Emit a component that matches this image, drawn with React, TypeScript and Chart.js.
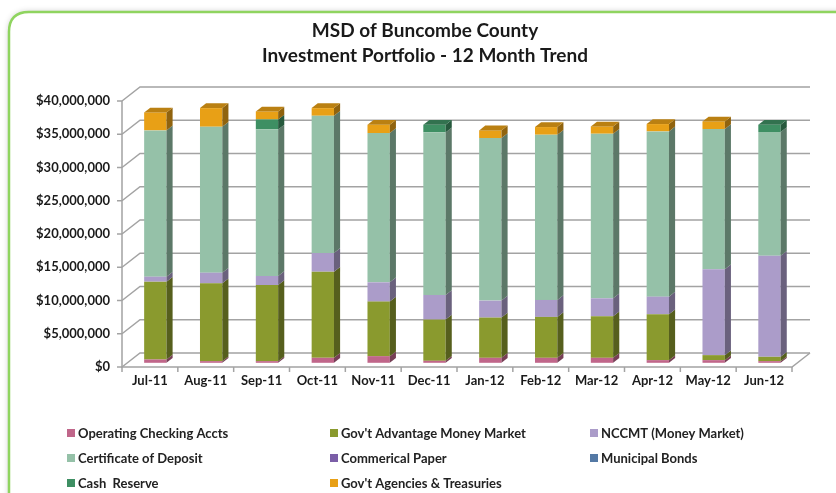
import React, { useEffect, useRef } from 'react';
import { Chart, registerables } from 'chart.js';

Chart.register(...registerables);

const titleLines = ['MSD of Buncombe County', 'Investment Portfolio - 12 Month Trend'];
const months = ['Jul-11', 'Aug-11', 'Sep-11', 'Oct-11', 'Nov-11', 'Dec-11', 'Jan-12', 'Feb-12', 'Mar-12', 'Apr-12', 'May-12', 'Jun-12'];

const operatingChecking = [500000, 250000, 250000, 750000, 1000000, 300000, 750000, 750000, 750000, 400000, 400000, 250000];
const govAdvantage = [11700000, 11700000, 11450000, 12950000, 8200000, 6200000, 6050000, 6150000, 6250000, 6900000, 750000, 650000];
const nccmt = [750000, 1600000, 1350000, 2800000, 2900000, 3700000, 2550000, 2550000, 2700000, 2650000, 12900000, 15200000];
const certificateOfDeposit = [22000000, 21950000, 22050000, 20650000, 22450000, 24450000, 24450000, 24850000, 24750000, 24850000, 21100000, 18600000];
const commercialPaper = [0, 0, 0, 0, 0, 0, 0, 0, 0, 0, 0, 0];
const municipalBonds = [0, 0, 0, 0, 0, 0, 0, 0, 0, 0, 0, 0];
const cashReserve = [0, 0, 1500000, 0, 0, 1150000, 0, 0, 0, 0, 0, 1100000];
const govAgencies = [2700000, 2800000, 1200000, 1150000, 1250000, 0, 1150000, 1150000, 1100000, 1100000, 1150000, 0];

const seriesNames = [
  'Operating Checking Accts',
  "Gov't Advantage Money Market",
  'NCCMT (Money Market)',
  'Certificate of Deposit',
  'Commerical Paper',
  'Municipal Bonds',
  'Cash  Reserve',
  "Gov't Agencies & Treasuries",
];
const seriesValues = [operatingChecking, govAdvantage, nccmt, certificateOfDeposit, commercialPaper, municipalBonds, cashReserve, govAgencies];
const seriesColors = ['#c0668a', '#8a9a2e', '#ab9cc9', '#95c1a8', '#7b5ea7', '#5479a5', '#3e8f63', '#e8a016'];

const yTicksMax = 40000000;
const yTicksStep = 5000000;

const FONT = 'Lato, "Open Sans", sans-serif';
const DX = 18;
const DY = -14;
const BAR_SHIFT = 0.3;
const BAR_DEPTH = 0.34;

function shade(hex: string, f: number) {
  const n = parseInt(hex.slice(1), 16);
  const r = Math.round(((n >> 16) & 255) * f);
  const g = Math.round(((n >> 8) & 255) * f);
  const b = Math.round((n & 255) * f);
  return `rgb(${r},${g},${b})`;
}

const threeD = {
  id: 'threeD',
  beforeDraw(chart: any) {
    const { ctx, width, height } = chart;
    ctx.save();
    ctx.fillStyle = '#ffffff';
    ctx.fillRect(0, 0, width, height);
    const x0 = 9, y0 = 12, r = 20, x1 = width + 40, y1 = height + 40;
    ctx.beginPath();
    ctx.moveTo(x0 + r, y0);
    ctx.lineTo(x1, y0);
    ctx.lineTo(x1, y1);
    ctx.lineTo(x0, y1);
    ctx.lineTo(x0, y0 + r);
    ctx.quadraticCurveTo(x0, y0, x0 + r, y0);
    ctx.closePath();
    ctx.shadowColor = 'rgba(0,0,0,0.25)';
    ctx.shadowBlur = 6;
    ctx.fillStyle = '#ffffff';
    ctx.fill();
    ctx.shadowColor = 'transparent';
    ctx.shadowBlur = 0;
    ctx.strokeStyle = '#8fd45f';
    ctx.lineWidth = 2.5;
    ctx.stroke();
    ctx.restore();
  },
  beforeDatasetsDraw(chart: any) {
    const { ctx, chartArea, scales } = chart;
    const { left, right, top, bottom } = chartArea;
    const y = scales.y;
    ctx.save();
    ctx.strokeStyle = '#a3a3a3';
    ctx.lineWidth = 1.5;
    y.ticks.forEach((t: any) => {
      const py = y.getPixelForValue(t.value);
      ctx.beginPath();
      ctx.moveTo(left, py);
      ctx.lineTo(left + DX, py + DY);
      ctx.lineTo(right + DX, py + DY);
      ctx.stroke();
      ctx.beginPath();
      ctx.moveTo(left - 5, py);
      ctx.lineTo(left, py);
      ctx.stroke();
    });
    ctx.beginPath();
    ctx.moveTo(left, top);
    ctx.lineTo(left, bottom);
    ctx.lineTo(right, bottom);
    ctx.lineTo(right + DX, bottom + DY);
    ctx.stroke();
    const n = chart.data.labels.length;
    for (let i = 0; i <= n; i++) {
      const px = left + (i * (right - left)) / n;
      ctx.beginPath();
      ctx.moveTo(px, bottom);
      ctx.lineTo(px, bottom + 5);
      ctx.stroke();
    }
    ctx.restore();
    ctx.save();
    ctx.translate(DX * BAR_SHIFT, DY * BAR_SHIFT);
  },
  afterDatasetsDraw(chart: any) {
    const { ctx } = chart;
    const sdx = DX * BAR_DEPTH;
    const sdy = DY * BAR_DEPTH;
    const n = chart.data.labels.length;
    const topIdx: number[] = new Array(n).fill(-1);
    chart.data.datasets.forEach((ds: any, i: number) => {
      ds.data.forEach((v: number, j: number) => {
        if (v > 0) topIdx[j] = i;
      });
    });
    chart.data.datasets.forEach((ds: any, i: number) => {
      const meta = chart.getDatasetMeta(i);
      meta.data.forEach((bar: any, j: number) => {
        const { x, y, base, width } = bar.getProps(['x', 'y', 'base', 'width'], true);
        if (Math.abs(base - y) < 0.3) return;
        const rx = x + width / 2;
        ctx.fillStyle = shade(ds.backgroundColor, 0.62);
        ctx.beginPath();
        ctx.moveTo(rx, y);
        ctx.lineTo(rx + sdx, y + sdy);
        ctx.lineTo(rx + sdx, base + sdy);
        ctx.lineTo(rx, base);
        ctx.closePath();
        ctx.fill();
        if (topIdx[j] === i) {
          const lx = x - width / 2;
          ctx.fillStyle = shade(ds.backgroundColor, 0.8);
          ctx.beginPath();
          ctx.moveTo(lx, y);
          ctx.lineTo(lx + sdx, y + sdy);
          ctx.lineTo(rx + sdx, y + sdy);
          ctx.lineTo(rx, y);
          ctx.closePath();
          ctx.fill();
        }
      });
    });
    ctx.restore();
  },
  afterDraw(chart: any) {
    const { ctx } = chart;
    ctx.save();
    ctx.fillStyle = '#1a1a1a';
    ctx.textAlign = 'center';
    ctx.textBaseline = 'middle';
    ctx.font = `bold 19px ${FONT}`;
    ctx.fillText(titleLines[0], 425, 31);
    ctx.fillText(titleLines[1], 425, 56);
    const colX = [67, 330, 590];
    const rowY = [433, 458, 483];
    ctx.font = `bold 13px ${FONT}`;
    ctx.textAlign = 'left';
    chart.data.datasets.forEach((ds: any, i: number) => {
      const cx = colX[i % 3];
      const cy = rowY[Math.floor(i / 3)];
      ctx.fillStyle = ds.backgroundColor;
      ctx.fillRect(cx, cy - 4, 8, 8);
      ctx.fillStyle = '#222222';
      ctx.fillText(ds.label, cx + 11, cy + 1);
    });
    ctx.restore();
  },
};

export default function App() {
  const ref = useRef<HTMLCanvasElement | null>(null);
  useEffect(() => {
    if (!ref.current) return;
    const chart = new Chart(ref.current, {
      type: 'bar',
      data: {
        labels: months,
        datasets: seriesNames.map((name, i) => ({
          label: name,
          data: seriesValues[i],
          backgroundColor: seriesColors[i],
          borderWidth: 0,
          stack: 'portfolio',
          barPercentage: 0.4,
          categoryPercentage: 1,
          clip: false as any,
        })),
      },
      options: {
        responsive: false,
        animation: false,
        devicePixelRatio: 1,
        layout: { padding: { top: 101, right: 44, bottom: 96, left: 0 } },
        plugins: {
          legend: { display: false },
          title: { display: false },
          tooltip: { enabled: false },
        },
        scales: {
          x: {
            stacked: true,
            grid: { display: false, drawTicks: false },
            border: { display: false },
            ticks: { color: '#1a1a1a', font: { family: FONT, size: 13, weight: 'bold' }, padding: 6, maxRotation: 0 },
            afterFit: (s: any) => { s.height = 30; },
          },
          y: {
            stacked: true,
            min: 0,
            max: yTicksMax,
            grid: { display: false, drawTicks: false },
            border: { display: false },
            ticks: {
              stepSize: yTicksStep,
              color: '#1a1a1a',
              font: { family: FONT, size: 13, weight: 'bold' },
              padding: 12,
              callback: (v: any) => '$' + Number(v).toLocaleString('en-US'),
            },
            afterFit: (s: any) => { s.width = 122; },
          },
        },
      },
      plugins: [threeD],
    });
    return () => chart.destroy();
  }, []);
  return (
    <div style={{ position: 'fixed', left: 0, top: 0, width: 836, height: 493, background: '#fff' }}>
      <canvas ref={ref} width={836} height={493} style={{ display: 'block' }} />
    </div>
  );
}
